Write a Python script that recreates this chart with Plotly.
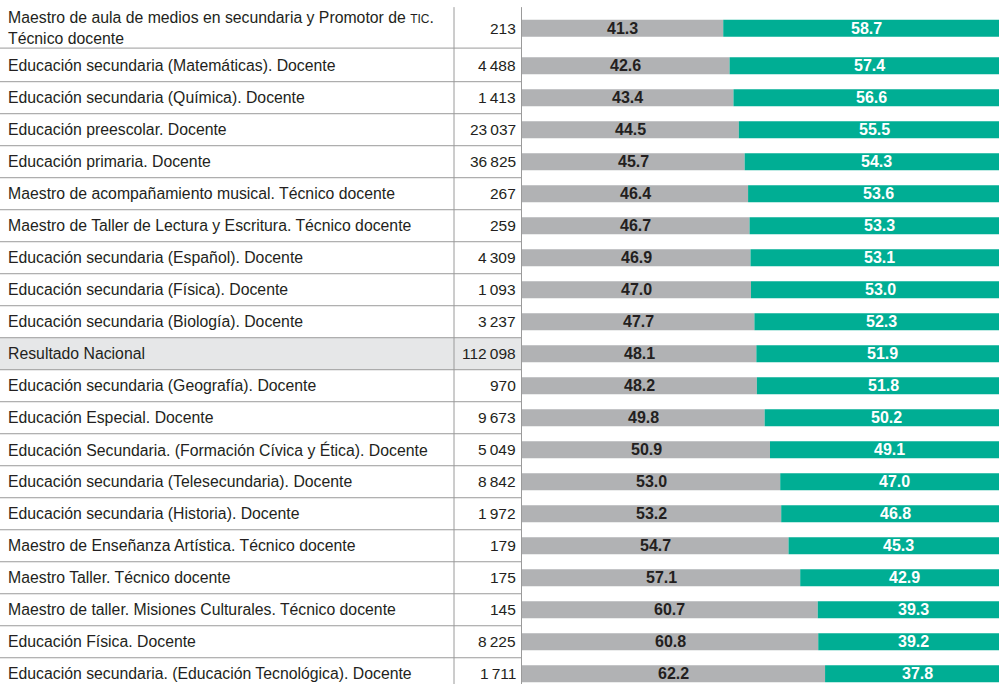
import plotly.graph_objects as go

categories = [
    "Maestro de aula de medios en secundaria y Promotor de <span style='font-size:12px'>TIC</span>.<br>Técnico docente",
    "Educación secundaria (Matemáticas). Docente",
    "Educación secundaria (Química). Docente",
    "Educación preescolar. Docente",
    "Educación primaria. Docente",
    "Maestro de acompañamiento musical. Técnico docente",
    "Maestro de Taller de Lectura y Escritura. Técnico docente",
    "Educación secundaria (Español). Docente",
    "Educación secundaria (Física). Docente",
    "Educación secundaria (Biología). Docente",
    "Resultado Nacional",
    "Educación secundaria (Geografía). Docente",
    "Educación Especial. Docente",
    "Educación Secundaria. (Formación Cívica y Ética). Docente",
    "Educación secundaria (Telesecundaria). Docente",
    "Educación secundaria (Historia). Docente",
    "Maestro de Enseñanza Artística. Técnico docente",
    "Maestro Taller. Técnico docente",
    "Maestro de taller. Misiones Culturales. Técnico docente",
    "Educación Física. Docente",
    "Educación secundaria. (Educación Tecnológica). Docente",
]
counts = [213, 4488, 1413, 23037, 36825, 267, 259, 4309, 1093, 3237, 112098,
          970, 9673, 5049, 8842, 1972, 179, 175, 145, 8225, 1711]
gray_vals = [41.3, 42.6, 43.4, 44.5, 45.7, 46.4, 46.7, 46.9, 47.0, 47.7, 48.1,
             48.2, 49.8, 50.9, 53.0, 53.2, 54.7, 57.1, 60.7, 60.8, 62.2]
green_vals = [58.7, 57.4, 56.6, 55.5, 54.3, 53.6, 53.3, 53.1, 53.0, 52.3, 51.9,
              51.8, 50.2, 49.1, 47.0, 46.8, 45.3, 42.9, 39.3, 39.2, 37.8]
highlight = "Resultado Nacional"

GRAY = "#b1b2b4"
GREEN = "#00ae94"
LINE = "#9a9a9a"
TEXT = "#231f20"
FONT = "Liberation Sans, Arial, sans-serif"

n = len(categories)
# first row is taller (two-line label)
ypos = [i if i > 0 else -0.17 for i in range(n)]

W, H = 999, 684
x_left = 522 / W
x_sep1 = 454 / W
x_sep2 = 521.5 / W
y_top = -0.83

fig = go.Figure()
fig.add_trace(go.Bar(y=ypos, x=gray_vals, orientation="h", marker_color=GRAY,
                     marker_line_width=0, width=0.53, hoverinfo="skip"))
fig.add_trace(go.Bar(y=ypos, x=green_vals, base=gray_vals, orientation="h",
                     marker_color=GREEN, marker_line_width=0, width=0.53,
                     hoverinfo="skip"))

shapes = []
annotations = []
for i, cat in enumerate(categories):
    y = ypos[i]
    if cat == highlight:
        shapes.append(dict(type="rect", xref="paper", yref="y", x0=0, x1=x_sep2,
                           y0=i - 0.5, y1=i + 0.5, fillcolor="#e6e7e8",
                           line_width=0, layer="below"))
    if i < n - 1:
        ysep = 0.45 if i == 0 else i + 0.5
        shapes.append(dict(type="line", xref="paper", yref="y", x0=0, x1=x_sep2,
                           y0=ysep, y1=ysep, line=dict(color=LINE, width=1)))
    annotations.append(dict(xref="paper", yref="y", x=6 / W, y=y, text=cat,
                            showarrow=False, xanchor="left", yanchor="middle",
                            align="left",
                            font=dict(family=FONT, size=15.8, color=TEXT)))
    annotations.append(dict(xref="paper", yref="y", x=518 / W, y=y,
                            text=f"{counts[i]:,}".replace(",", "\u2009"),
                            showarrow=False, xanchor="right", yanchor="middle",
                            font=dict(family=FONT, size=15.5, color=TEXT)))
    annotations.append(dict(xref="x", yref="y", x=gray_vals[i] / 2, y=y,
                            text=f"<b>{gray_vals[i]:.1f}</b>", showarrow=False,
                            xanchor="center", yanchor="middle",
                            font=dict(family=FONT, size=16, color=TEXT)))
    annotations.append(dict(xref="x", yref="y", x=gray_vals[i] + green_vals[i] / 2,
                            y=y, text=f"<b>{green_vals[i]:.1f}</b>",
                            showarrow=False, xanchor="center", yanchor="middle",
                            font=dict(family=FONT, size=16, color="white")))

for xs in (x_sep1, x_sep2):
    shapes.append(dict(type="line", xref="paper", yref="y", x0=xs, x1=xs,
                       y0=y_top, y1=20.4, line=dict(color=LINE, width=1)))

fig.update_layout(
    width=W, height=H, barmode="overlay", showlegend=False,
    margin=dict(l=0, r=0, t=0, b=0),
    paper_bgcolor="white", plot_bgcolor="white",
    xaxis=dict(domain=[x_left, 1], range=[0, 97.9], visible=False, fixedrange=True),
    yaxis=dict(range=[20.32, -1.053], visible=False, fixedrange=True),
    shapes=shapes, annotations=annotations,
)

fig.write_html("out.html", config={"displayModeBar": False},
               post_script="document.body.style.margin='0';document.body.style.overflow='hidden';")
